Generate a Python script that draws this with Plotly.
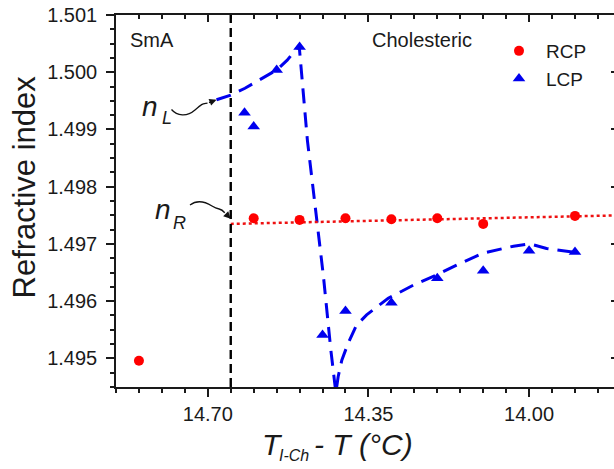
import plotly.graph_objects as go

# Measured refractive indices for right (RCP) and left (LCP) circular polarisation
rcp_t = [14.85, 14.60, 14.50, 14.40, 14.30, 14.20, 14.10, 13.90]
rcp_n = [1.49496, 1.49745, 1.49742, 1.49745, 1.49743, 1.49745, 1.49735, 1.49749]

lcp_t = [14.62, 14.60, 14.55, 14.50, 14.45, 14.40, 14.30, 14.20, 14.10, 14.00, 13.90]
lcp_n = [1.49929, 1.49905, 1.50004, 1.50044, 1.49541, 1.49583, 1.49597, 1.49640,
         1.49653, 1.49688, 1.49686]

# Guide curve through the n_L data (dispersion-like shape around the pitch resonance)
nl_t = [14.681, 14.650, 14.619, 14.586, 14.550, 14.527, 14.506, 14.501, 14.483, 14.464,
        14.448, 14.432, 14.423, 14.421, 14.416, 14.408, 14.394, 14.376, 14.354, 14.307,
        14.252, 14.201, 14.158, 14.100, 14.034, 13.998, 13.962, 13.896]
nl_n = [1.49952, 1.49960, 1.49972, 1.49988, 1.50004, 1.50021, 1.50042, 1.50047, 1.49881,
        1.49748, 1.49643, 1.49515, 1.49457, 1.49440, 1.49468, 1.49497, 1.49527, 1.49558,
        1.49576, 1.49605, 1.49628, 1.49646, 1.49663, 1.49684, 1.49696, 1.49700, 1.49692,
        1.49685]

# Linear guide through the n_R data
nr_t = [14.65, 13.80]
nr_n = [1.49735, 1.49750]

# SmA / cholesteric transition
phase_boundary = 14.65

x_range = [14.90, 13.815]
y_range = [1.4945, 1.501]
x_ticks = [14.70, 14.35, 14.00]
y_ticks = [1.495, 1.496, 1.497, 1.498, 1.499, 1.500, 1.501]

W, H = 614, 469
ML, MR, MT, MB = 116, 0, 15, 82
PW, PH = W - ML - MR, H - MT - MB

FONT = "Arial, Liberation Sans, sans-serif"
INK = "#1a1a1a"


def paper(xp, yp):
    """pixel position -> paper coordinates"""
    return (xp - ML) / PW, (MT + PH - yp) / PH


def data_px(t, n):
    """data value -> pixel position"""
    xp = ML + (x_range[0] - t) / (x_range[0] - x_range[1]) * PW
    yp = MT + (y_range[1] - n) / (y_range[1] - y_range[0]) * PH
    return xp, yp


def squiggle(points):
    """cubic bezier path (given in pixels) converted to paper coordinates"""
    cmds = []
    for cmd, pts in points:
        coords = " ".join("%.5f,%.5f" % paper(*p) for p in pts)
        cmds.append(cmd + " " + coords)
    return " ".join(cmds)


fig = go.Figure()

fig.add_trace(go.Scatter(
    x=nl_t, y=nl_n, mode="lines", showlegend=False, hoverinfo="skip",
    line=dict(color="#0000ee", width=3, dash="15px,9px"),
))
fig.add_trace(go.Scatter(
    x=nr_t, y=nr_n, mode="lines", showlegend=False, hoverinfo="skip",
    line=dict(color="#ee1111", width=2.5, dash="3px,3px"),
))
fig.add_trace(go.Scatter(
    x=rcp_t, y=rcp_n, mode="markers", name="RCP",
    marker=dict(symbol="circle", size=10, color="#ff0000", line=dict(width=0)),
))
fig.add_trace(go.Scatter(
    x=lcp_t, y=lcp_n, mode="markers", name="LCP",
    marker=dict(symbol="triangle-up", size=11, color="#0000ee", line=dict(width=0)),
))
# carrier for the top / right mirror axes
fig.add_trace(go.Scatter(x=[], y=[], xaxis="x2", yaxis="y2", showlegend=False))

# phase boundary
fig.add_shape(type="line", xref="x", yref="paper", x0=phase_boundary, x1=phase_boundary,
              y0=0, y1=1, line=dict(color="#000000", width=2.4, dash="9px,5px"))

# curly pointers for n_L and n_R
tipL = data_px(nl_t[0], nl_n[0])
tailL = (tipL[0] - 9, tipL[1] + 3.5)
fig.add_shape(type="path", xref="paper", yref="paper", line=dict(color="#111111", width=1.3),
              path=squiggle([("M", [(171.5, 109.5)]),
                             ("C", [(177, 116), (187, 117), (195, 110)]),
                             ("S", [(202, 104), tailL])]))
fig.add_annotation(x=nl_t[0], y=nl_n[0], xref="x", yref="y", ax=-9, ay=3.5, text="",
                   showarrow=True, arrowhead=2, arrowsize=1.1, arrowwidth=1.3,
                   arrowcolor="#111111", standoff=0)

tipR = data_px(phase_boundary, nr_n[0] + 0.00009)
tailR = (tipR[0] - 6, tipR[1] - 6)
fig.add_shape(type="path", xref="paper", yref="paper", line=dict(color="#111111", width=1.3),
              path=squiggle([("M", [(190, 205)]),
                             ("C", [(196, 200.5), (204, 201), (212, 206)]),
                             ("S", [(220, 207), tailR])]))
fig.add_annotation(x=phase_boundary, y=nr_n[0] + 0.00009, xref="x", yref="y", ax=-6, ay=-6,
                   text="", showarrow=True, arrowhead=2, arrowsize=1.1, arrowwidth=1.3,
                   arrowcolor="#111111", standoff=0)


def label(text, xp, yp, size, **kw):
    px_, py_ = paper(xp, yp)
    fig.add_annotation(x=px_, y=py_, xref="paper", yref="paper", text=text, showarrow=False,
                       font=dict(family=FONT, size=size, color=INK),
                       xanchor="center", yanchor="middle", **kw)


label("<i>n</i>", 150, 106, 28)
label("<i>L</i>", 166.5, 118, 18)
label("<i>n</i>", 162.5, 209.5, 28)
label("<i>R</i>", 179, 222.5, 18)

label("SmA", 151.7, 40, 20)
label("Cholesteric", 422, 40, 20)

# axis titles
label("Refractive index", 24, 187.5, 31, textangle=-90)
label("<i>T</i>", 272, 444, 30)
label("<i>I-Ch</i>", 293.5, 455, 16)
label("<i>- T (°C)</i>", 363.5, 444, 30)

axis_common = dict(showgrid=False, zeroline=False, showline=True, linecolor=INK, linewidth=1.5,
                   tickcolor=INK, tickwidth=1.5)

fig.update_layout(
    width=W, height=H,
    margin=dict(l=ML, r=MR, t=MT, b=MB, pad=0),
    paper_bgcolor="white", plot_bgcolor="white",
    font=dict(family=FONT, size=20, color=INK),
    xaxis=dict(range=x_range, tickmode="array", tickvals=x_ticks,
               ticktext=["%.2f" % v for v in x_ticks], ticks="outside", ticklen=8,
               tickfont=dict(size=20, color=INK),
               minor=dict(dtick=0.05, tick0=14.0, ticks="outside", ticklen=4,
                          tickwidth=1.5, tickcolor=INK),
               **axis_common),
    yaxis=dict(range=y_range, tickmode="array", tickvals=y_ticks,
               ticktext=["%.3f" % v for v in y_ticks], ticks="outside", ticklen=8,
               ticklabelstandoff=5, tickfont=dict(size=20, color=INK),
               minor=dict(dtick=0.00025, tick0=1.495, ticks="outside", ticklen=4,
                          tickwidth=1.5, tickcolor=INK),
               **axis_common),
    xaxis2=dict(range=x_range, overlaying="x", side="top", tickmode="array",
                tickvals=x_ticks, ticks="inside", ticklen=7, showticklabels=False,
                minor=dict(dtick=0.05, tick0=14.0, ticks="inside", ticklen=4,
                           tickwidth=1.5, tickcolor=INK),
                **axis_common),
    yaxis2=dict(range=y_range, overlaying="y", side="right", tickmode="array",
                tickvals=y_ticks, ticks="inside", ticklen=3, showticklabels=False,
                showgrid=False, zeroline=False, showline=False, tickcolor=INK, tickwidth=1.5),
    legend=dict(x=paper(492, 0)[0], y=paper(0, 32)[1], xanchor="left", yanchor="top",
                bgcolor="rgba(0,0,0,0)", borderwidth=0, itemwidth=44,
                font=dict(family=FONT, size=19, color=INK), tracegroupgap=0),
    showlegend=True,
)

fig.write_html("out.html")
